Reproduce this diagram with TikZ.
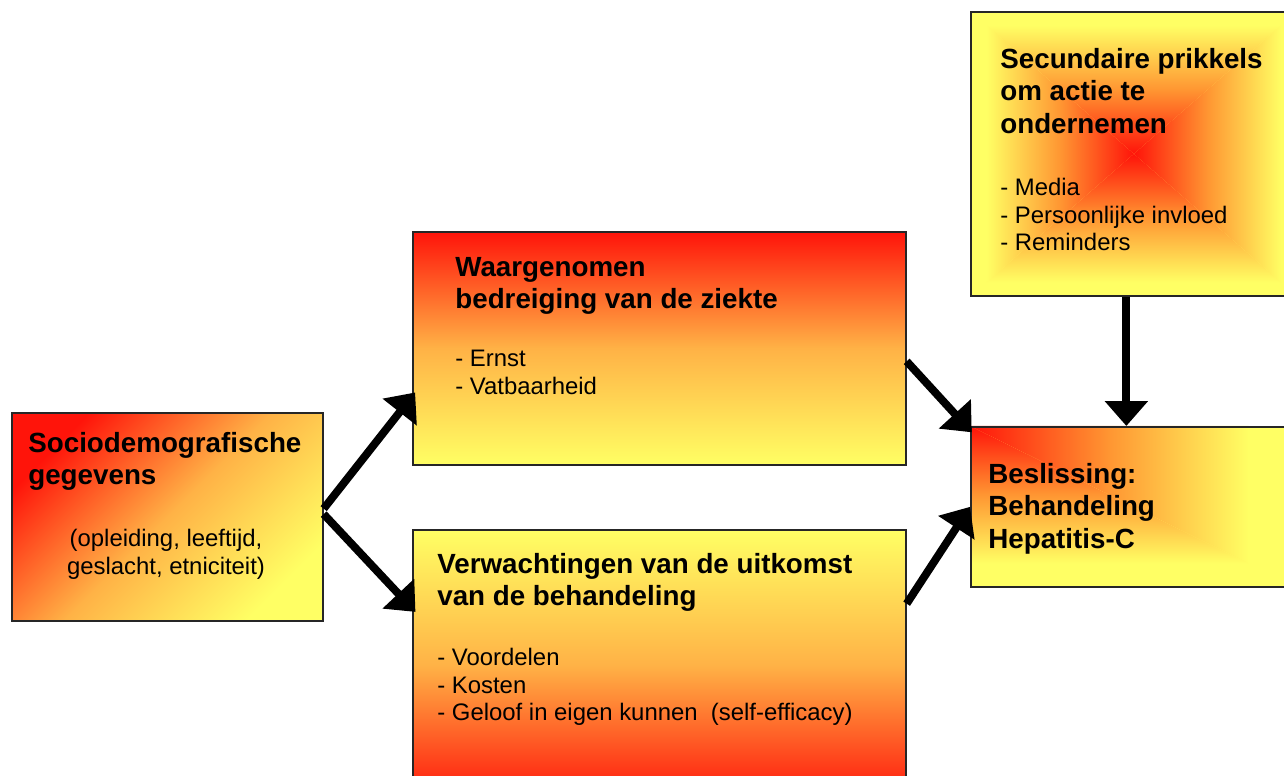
\documentclass[tikz,border=0pt]{standalone}
\usepackage{fontspec}
\setmainfont{Liberation Sans}
\usepackage{tikz}
\usetikzlibrary{backgrounds,arrows.meta,calc}

\definecolor{hotred}{RGB}{255,20,10}
\definecolor{paleyellow}{RGB}{255,255,100}
\definecolor{midorange}{RGB}{255,178,70}
\definecolor{deeporange}{RGB}{255,150,50}

\tikzset{
  box/.style={draw=black!85, line width=1pt, anchor=north west, inner sep=0pt},
  head/.style={font=\fontsize{15.8}{18.4}\selectfont\bfseries, align=left, anchor=north west, inner sep=0pt},
  items/.style={font=\fontsize{13.6}{15.6}\selectfont, align=left, anchor=north west, inner sep=0pt},
  bigarrow/.style={-{Triangle[length=0.5cm, width=0.84cm]}, line width=4.5pt}
}

\begin{document}
\begin{tikzpicture}[x=0.02cm, y=-0.02cm]
    \useasboundingbox (0,0) rectangle (1284,776);

    % Boxes
    \node[box, minimum width=6.22cm, minimum height=4.16cm, top color=hotred, bottom color=paleyellow, middle color=midorange, shading angle=45] (soc) at (11,412) {};
    \node[box, minimum width=9.86cm, minimum height=4.66cm, top color=hotred, bottom color=paleyellow, middle color=midorange] (threat) at (412,231) {};
    \node[box, minimum width=9.86cm, minimum height=5.42cm, top color=paleyellow, bottom color=hotred, middle color=midorange] (expect) at (412,529) {};
    \node[box, minimum width=6.52cm, minimum height=5.68cm] (cue) at (970,11) {};
    \node[box, minimum width=6.52cm, minimum height=3.2cm] (dec) at (970,426) {};

    % Shading of cue (from centre) and decision (from corner)
    \begin{scope}[on background layer]
        \fill[paleyellow] (cue.north west) rectangle (cue.south east);
        \coordinate (cnw) at ($(cue.center)!0.9!(cue.north west)$);
        \coordinate (cne) at ($(cue.center)!0.9!(cue.north east)$);
        \coordinate (csw) at ($(cue.center)!0.9!(cue.south west)$);
        \coordinate (cse) at ($(cue.center)!0.9!(cue.south east)$);
        \shade[top color=paleyellow, bottom color=hotred, middle color=deeporange] (cue.center) -- (cnw) -- (cne) -- cycle;
        \shade[top color=hotred, bottom color=paleyellow, middle color=deeporange] (cue.center) -- (csw) -- (cse) -- cycle;
        \shade[left color=paleyellow, right color=hotred, middle color=deeporange] (cue.center) -- (cnw) -- (csw) -- cycle;
        \shade[left color=hotred, right color=paleyellow, middle color=deeporange] (cue.center) -- (cne) -- (cse) -- cycle;

        \fill[paleyellow] (dec.north west) rectangle (dec.south east);
        \coordinate (dne) at ($(dec.north west)!0.85!(dec.north east)$);
        \coordinate (dse) at ($(dec.north west)!0.85!(dec.south east)$);
        \coordinate (dsw) at ($(dec.north west)!0.85!(dec.south west)$);
        \shade[left color=hotred, right color=paleyellow, middle color=deeporange] (dec.north west) -- (dne) -- (dse) -- cycle;
        \shade[top color=hotred, bottom color=paleyellow, middle color=deeporange] (dec.north west) -- (dse) -- (dsw) -- cycle;
    \end{scope}

    % Texts
    \node[head] (sochead) at (28,432) {Sociodemografische\\gegevens};
    \node[items, align=center, anchor=north] (soclist) at (166,529) {(opleiding, leeftijd,\\geslacht, etniciteit)};

    \node[head] (threathead) at (455,257) {Waargenomen\\bedreiging van de ziekte};
    \node[items] (threatlist) at (455,350) {- Ernst\\- Vatbaarheid};

    \node[head] (expecthead) at (437,553) {Verwachtingen van de uitkomst\\van de behandeling};
    \node[items] (expectlist) at (437,648) {- Voordelen\\- Kosten\\- Geloof in eigen kunnen\ \ (self-efficacy)};

    \node[head] (cuehead) at (1000,48) {Secundaire prikkels\\om actie te\\ondernemen};
    \node[items] (cuelist) at (1000,178) {- Media\\- Persoonlijke invloed\\- Reminders};

    \node[head] (dechead) at (988,463) {Beslissing:\\Behandeling\\Hepatitis-C};

    % Arrows
    \draw[bigarrow, shorten >=-0.1cm] (soc.3) -- (threat.191);
    \draw[bigarrow, shorten >=-0.1cm] (soc.1) -- (expect.167);
    \draw[bigarrow, shorten >=-0.05cm] (threat.-3) -- (dec.155);
    \draw[bigarrow] (expect.14) -- (dec.west);
    \draw[bigarrow] (cue.267) -- (cue.267 |- dec.north);
\end{tikzpicture}
\end{document}
